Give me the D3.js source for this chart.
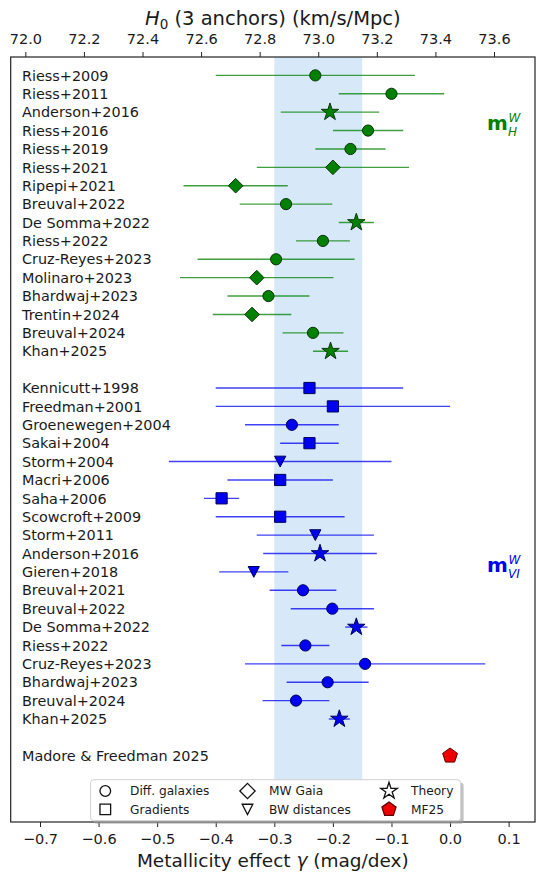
<!DOCTYPE html>
<html><head><meta charset="utf-8">
<script src="https://cdn.jsdelivr.net/npm/d3@7"></script>
<style>body{margin:0;background:#fff}svg{display:block;font-family:"DejaVu Sans",sans-serif}</style>
</head><body><svg id="c" width="536" height="872"></svg>
<script>
// ---------- DATA ----------
const greenLabels = ["Riess+2009","Riess+2011","Anderson+2016","Riess+2016","Riess+2019","Riess+2021","Ripepi+2021","Breuval+2022","De Somma+2022","Riess+2022","Cruz-Reyes+2023","Molinaro+2023","Bhardwaj+2023","Trentin+2024","Breuval+2024","Khan+2025"];
const greenGamma  = [-0.230,-0.100,-0.205,-0.140,-0.170,-0.200,-0.366,-0.280,-0.160,-0.217,-0.297,-0.330,-0.310,-0.338,-0.234,-0.204];
const greenErr    = [0.170,0.090,0.084,0.060,0.060,0.130,0.089,0.079,0.030,0.046,0.134,0.131,0.070,0.067,0.052,0.030];
const greenMethod = ["diff","diff","theory","diff","diff","gaia","gaia","diff","theory","diff","diff","gaia","diff","gaia","diff","theory"];

const blueLabels = ["Kennicutt+1998","Freedman+2001","Groenewegen+2004","Sakai+2004","Storm+2004","Macri+2006","Saha+2006","Scowcroft+2009","Storm+2011","Anderson+2016","Gieren+2018","Breuval+2021","Breuval+2022","De Somma+2022","Riess+2022","Cruz-Reyes+2023","Bhardwaj+2023","Breuval+2024","Khan+2025"];
const blueGamma  = [-0.240,-0.200,-0.270,-0.240,-0.290,-0.290,-0.390,-0.290,-0.230,-0.222,-0.335,-0.251,-0.201,-0.160,-0.247,-0.145,-0.209,-0.263,-0.189];
const blueErr    = [0.160,0.200,0.080,0.050,0.190,0.090,0.030,0.110,0.100,0.097,0.059,0.057,0.071,0.019,0.041,0.205,0.070,0.057,0.018];
const blueMethod = ["grad","grad","diff","grad","bw","grad","grad","grad","bw","theory","bw","diff","diff","theory","diff","diff","diff","diff","theory"];

const mfLabel = "Madore & Freedman 2025";
const mfGamma = 0.0;

const gammaTicks = [-0.7,-0.6,-0.5,-0.4,-0.3,-0.2,-0.1,0.0,0.1];
const h0Ticks = [72.0,72.2,72.4,72.6,72.8,73.0,73.2,73.4,73.6];
const bandRange = [-0.30,-0.15];

const legendCols = [["diff","Diff. galaxies"],["grad","Gradients"],["gaia","MW Gaia"],["bw","BW distances"],["theory","Theory"],["mf","MF25"]];

// ---------- LAYOUT ----------
const svg = d3.select("#c");
const L = 10.7, R = 535, T = 57, B = 822;
const x = d3.scaleLinear().domain([-0.75, 0.145]).range([L, R]);
const xTop = d3.scaleLinear().domain([73.45 - 1.5, 73.45 + 0.29]).range([L, R]);
const y = d3.scaleLinear().domain([-1, 40.6]).range([T, B]);

const GREEN = "#008000", GREEN_EDGE = "#0b330b";
const BLUE = "#0000f0", BLUE_EDGE = "#00005a";

function symPath(type, s) {
  s = s || 1;
  if (type === "diff") return d3.symbol(d3.symbolCircle, Math.PI * (5.6*s) * (5.6*s))();
  if (type === "grad") { const h = 5.6*s; return `M${-h},${-h}H${h}V${h}H${-h}Z`; }
  if (type === "gaia") { const r = 7.3*s; return `M0,${-r}L${r},0L0,${r}L${-r},0Z`; }
  if (type === "bw") { const w = 5.6*s, h = 5.4*s; return `M${-w},${-h}L${w},${-h}L0,${h}Z`; }
  if (type === "theory") {
    const Ro = 9.2*s, Ri = Ro*0.382; let p = "";
    for (let i = 0; i < 10; i++) {
      const r = i % 2 ? Ri : Ro, a = -Math.PI/2 + i*Math.PI/5;
      p += (i ? "L" : "M") + (r*Math.cos(a)).toFixed(2) + "," + (r*Math.sin(a)).toFixed(2);
    }
    return p + "Z";
  }
  if (type === "mf") {
    const Ro = 7.8*s; let p = "";
    for (let i = 0; i < 5; i++) {
      const a = -Math.PI/2 + i*2*Math.PI/5;
      p += (i ? "L" : "M") + (Ro*Math.cos(a)).toFixed(2) + "," + (Ro*Math.sin(a)).toFixed(2);
    }
    return p + "Z";
  }
}

// band
svg.append("rect").attr("x", x(bandRange[0])).attr("y", T)
  .attr("width", x(bandRange[1]) - x(bandRange[0])).attr("height", B - T)
  .attr("fill", "#d7e9f8");

// rows
const rows = [];
greenLabels.forEach((l, i) => rows.push({label: l, g: greenGamma[i], e: greenErr[i], m: greenMethod[i], row: i, fill: GREEN, edge: GREEN_EDGE}));
blueLabels.forEach((l, i) => rows.push({label: l, g: blueGamma[i], e: blueErr[i], m: blueMethod[i], row: greenLabels.length + 1 + i, fill: BLUE, edge: BLUE_EDGE}));
const mfRow = greenLabels.length + 1 + blueLabels.length + 1;

const gRows = svg.append("g");
gRows.selectAll("line.err").data(rows).join("line")
  .attr("x1", d => x(d.g - d.e)).attr("x2", d => x(d.g + d.e))
  .attr("y1", d => y(d.row)).attr("y2", d => y(d.row))
  .attr("stroke", d => d.fill).attr("stroke-opacity", 0.75).attr("stroke-width", 1.4);
gRows.selectAll("path.mk").data(rows).join("path")
  .attr("d", d => symPath(d.m))
  .attr("transform", d => `translate(${x(d.g)},${y(d.row)})`)
  .attr("fill", d => d.fill).attr("stroke", d => d.edge).attr("stroke-width", 1);
gRows.selectAll("text.lab").data(rows).join("text")
  .attr("x", 22).attr("y", d => y(d.row)).attr("dy", "0.36em")
  .attr("font-size", 14.4).attr("fill", "#1a1a1a").text(d => d.label);

svg.append("text").attr("x", 22).attr("y", y(mfRow)).attr("dy", "0.36em")
  .attr("font-size", 14.4).attr("fill", "#1a1a1a").text(mfLabel);
svg.append("path").attr("d", symPath("mf"))
  .attr("transform", `translate(${x(mfGamma)},${y(mfRow)})`)
  .attr("fill", "#ee0000").attr("stroke", "#5a0000").attr("stroke-width", 1);

// annotations
function mLabel(xp, yb, color, sup, sub) {
  const t = svg.append("g").attr("fill", color);
  t.append("text").attr("x", xp).attr("y", yb).attr("font-size", 20).attr("font-weight", "bold").text("m");
  t.append("text").attr("x", xp + 21.5).attr("y", yb - 8.5).attr("font-size", 12).attr("font-style", "italic").text(sup);
  t.append("text").attr("x", xp + 21).attr("y", yb + 6).attr("font-size", 12).attr("font-style", "italic").text(sub);
}
mLabel(487, 130, GREEN, "W", "H");
mLabel(487, 572, BLUE, "W", "VI");

// axes
const axB = svg.append("g").attr("transform", `translate(0,${B})`)
  .call(d3.axisBottom(x).tickValues(gammaTicks).tickFormat(d3.format(".1f")).tickSize(5).tickPadding(7));
const axT = svg.append("g").attr("transform", `translate(0,${T})`)
  .call(d3.axisTop(xTop).tickValues(h0Ticks).tickFormat(d3.format(".1f")).tickSize(5).tickPadding(8));
[axB, axT].forEach(a => {
  a.select(".domain").remove();
  a.selectAll("line").attr("stroke", "#222").attr("stroke-width", 1);
  a.selectAll("text").attr("font-size", 14.5).attr("fill", "#1a1a1a").attr("font-family", "DejaVu Sans");
});

// frame
svg.append("rect").attr("x", L).attr("y", T).attr("width", R - L).attr("height", B - T)
  .attr("fill", "none").attr("stroke", "#222").attr("stroke-width", 1.2);

// legend
const lg = svg.append("g");
const lx = 90.6, ly = 779.7, lw = 370, lh = 41;
lg.append("rect").attr("x", lx + 3).attr("y", ly + 3).attr("width", lw).attr("height", lh).attr("rx", 3).attr("fill", "#9a9a9a").attr("opacity", 0.6);
lg.append("rect").attr("x", lx).attr("y", ly).attr("width", lw).attr("height", lh).attr("rx", 3).attr("fill", "#fff").attr("stroke", "#d0d0d0").attr("stroke-width", 1);
const colMx = [105.3, 247.5, 389], colTx = [130, 269, 411], rowY = [791, 809.4];
legendCols.forEach((it, i) => {
  const c = Math.floor(i / 2), r = i % 2;
  const isMF = it[0] === "mf";
  lg.append("path").attr("d", symPath(it[0], it[0] === "gaia" ? 1.05 : 0.95))
    .attr("transform", `translate(${colMx[c]},${rowY[r]})`)
    .attr("fill", isMF ? "#ee0000" : "none").attr("stroke", isMF ? "#5a0000" : "#111").attr("stroke-width", 1.3);
  lg.append("text").attr("x", colTx[c]).attr("y", rowY[r]).attr("dy", "0.36em")
    .attr("font-size", 12.2).attr("fill", "#1a1a1a").text(it[1]);
});

// titles
const tt = svg.append("text").attr("x", (L + R) / 2).attr("y", 25).attr("text-anchor", "middle").attr("font-size", 19.5).attr("fill", "#1a1a1a");
tt.append("tspan").attr("font-style", "italic").text("H");
tt.append("tspan").attr("font-size", 13.5).attr("dy", 4).text("0");
tt.append("tspan").attr("dy", -4).text(" (3 anchors) (km/s/Mpc)");
const bt = svg.append("text").attr("x", (L + R) / 2).attr("y", 867).attr("text-anchor", "middle").attr("font-size", 18.5).attr("fill", "#1a1a1a");
bt.append("tspan").text("Metallicity effect ");
bt.append("tspan").attr("font-style", "italic").text("γ");
bt.append("tspan").text(" (mag/dex)");
</script></body></html>
